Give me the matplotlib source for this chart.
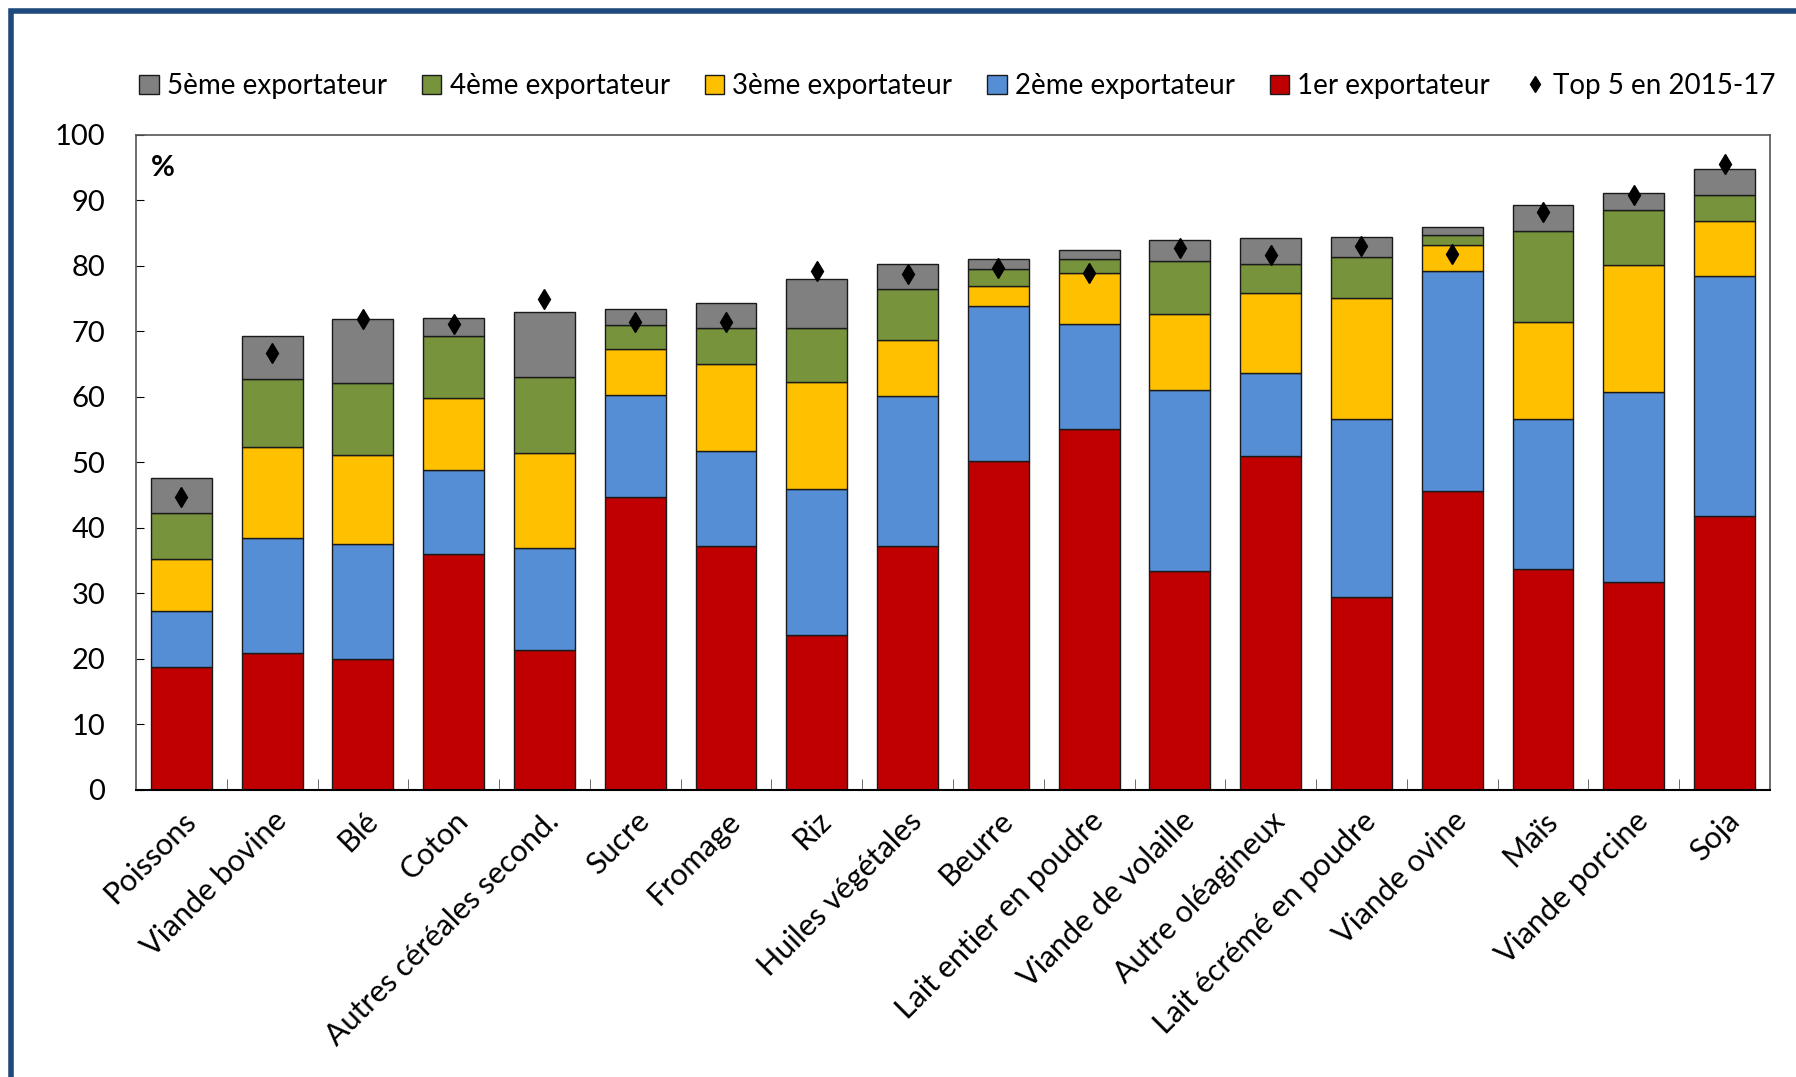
import numpy as np
import matplotlib
matplotlib.use("Agg")
import matplotlib.pyplot as plt
from matplotlib.patches import Rectangle
from matplotlib.lines import Line2D

plt.rcParams["font.family"] = ["Lato", "DejaVu Sans"]

# -----------------------------------------------------------------------
# Data (parts de marché des exportateurs, %)
# -----------------------------------------------------------------------
categories = [
    "Poissons", "Viande bovine", "Blé", "Coton", "Autres céréales second.",
    "Sucre", "Fromage", "Riz", "Huiles végétales", "Beurre",
    "Lait entier en poudre", "Viande de volaille", "Autre oléagineux",
    "Lait écrémé en poudre", "Viande ovine", "Maïs", "Viande porcine", "Soja",
]
exp1 = [18.7, 20.9, 20.0, 36.1, 21.3, 44.8, 37.3, 23.6, 37.2, 50.2,
        55.1, 33.4, 51.0, 29.4, 45.7, 33.7, 31.8, 41.8]
exp2 = [8.6, 17.6, 17.6, 12.8, 15.6, 15.5, 14.4, 22.3, 22.9, 23.7,
        16.1, 27.6, 12.6, 27.3, 33.5, 23.0, 29.0, 36.7]
exp3 = [8.0, 13.8, 13.5, 11.0, 14.6, 7.0, 13.3, 16.4, 8.6, 3.0,
        7.7, 11.6, 12.3, 18.4, 4.0, 14.7, 19.3, 8.3]
exp4 = [7.0, 10.5, 11.0, 9.4, 11.6, 3.7, 5.6, 8.3, 7.8, 2.7,
        2.1, 8.2, 4.4, 6.3, 1.5, 13.9, 8.4, 4.0]
exp5 = [5.4, 6.5, 9.8, 2.8, 9.9, 2.5, 3.8, 7.4, 3.8, 1.5,
        1.4, 3.2, 3.9, 3.0, 1.3, 4.0, 2.7, 4.0]
top5_2015_17 = [44.8, 66.7, 71.9, 71.2, 74.9, 71.4, 71.4, 79.2, 78.8, 79.7,
                79.0, 82.7, 81.7, 83.0, 81.9, 88.3, 90.8, 95.5]

series = [
    ("1er exportateur", exp1, "#C00000"),
    ("2ème exportateur", exp2, "#558ED5"),
    ("3ème exportateur", exp3, "#FFC000"),
    ("4ème exportateur", exp4, "#77933C"),
    ("5ème exportateur", exp5, "#808080"),
]

# -----------------------------------------------------------------------
# Figure
# -----------------------------------------------------------------------
fig = plt.figure(figsize=(17.96, 10.77), dpi=100)
ax = fig.add_axes([0.0757, 0.2665, 0.9098, 0.6082])

x = np.arange(len(categories))
bottom = np.zeros(len(categories))
handles = {}
for name, vals, col in series:
    vals = np.array(vals)
    b = ax.bar(x, vals, bottom=bottom, width=0.67, color=col,
               edgecolor="#1a1a1a", linewidth=1.0, zorder=2)
    handles[name] = b
    bottom += vals

ax.plot(x, top5_2015_17, linestyle="none", marker="d", color="black",
        markersize=10, zorder=3)

ax.set_xlim(-0.5, len(categories) - 0.5)
ax.set_ylim(0, 100)
ax.set_yticks(range(0, 101, 10))
ax.tick_params(axis="y", direction="in", length=6, labelsize=21, pad=22)
ax.set_xticks(x)
ax.set_xticklabels(categories, rotation=45, ha="right", rotation_mode="anchor",
                   fontsize=22)
ax.tick_params(axis="x", length=0, pad=12)
ax.set_xticks(np.arange(0.5, len(categories) - 1, 1.0), minor=True)
ax.tick_params(axis="x", which="minor", direction="in", length=8, color="#555555")

for side in ["top", "right", "left"]:
    ax.spines[side].set_color("#555555")
    ax.spines[side].set_linewidth(1.2)
ax.spines["bottom"].set_color("black")
ax.spines["bottom"].set_linewidth(1.5)

ax.text(0.009, 0.97, "%", transform=ax.transAxes, fontsize=21,
        fontweight="bold", va="top", ha="left")

# Legend (order as in the source)
leg_names = ["5ème exportateur", "4ème exportateur", "3ème exportateur",
             "2ème exportateur", "1er exportateur"]
leg_handles = [handles[n] for n in leg_names]
diamond = Line2D([], [], linestyle="none", marker="d", color="black", markersize=8)
fig.legend(leg_handles + [diamond], leg_names + ["Top 5 en 2015-17"],
           loc="center", bbox_to_anchor=(0.533, 0.92), ncol=6, frameon=False,
           fontsize=20, handlelength=0.7, handleheight=0.7, handletextpad=0.3,
           columnspacing=1.25)

# Dark blue frame around the chart
frame = Rectangle((0.006, -0.2), 1.2, 1.19, transform=fig.transFigure,
                  fill=False, edgecolor="#1F497D", linewidth=4, zorder=0)
fig.patches.append(frame)

fig.savefig("out.png", dpi=100)
